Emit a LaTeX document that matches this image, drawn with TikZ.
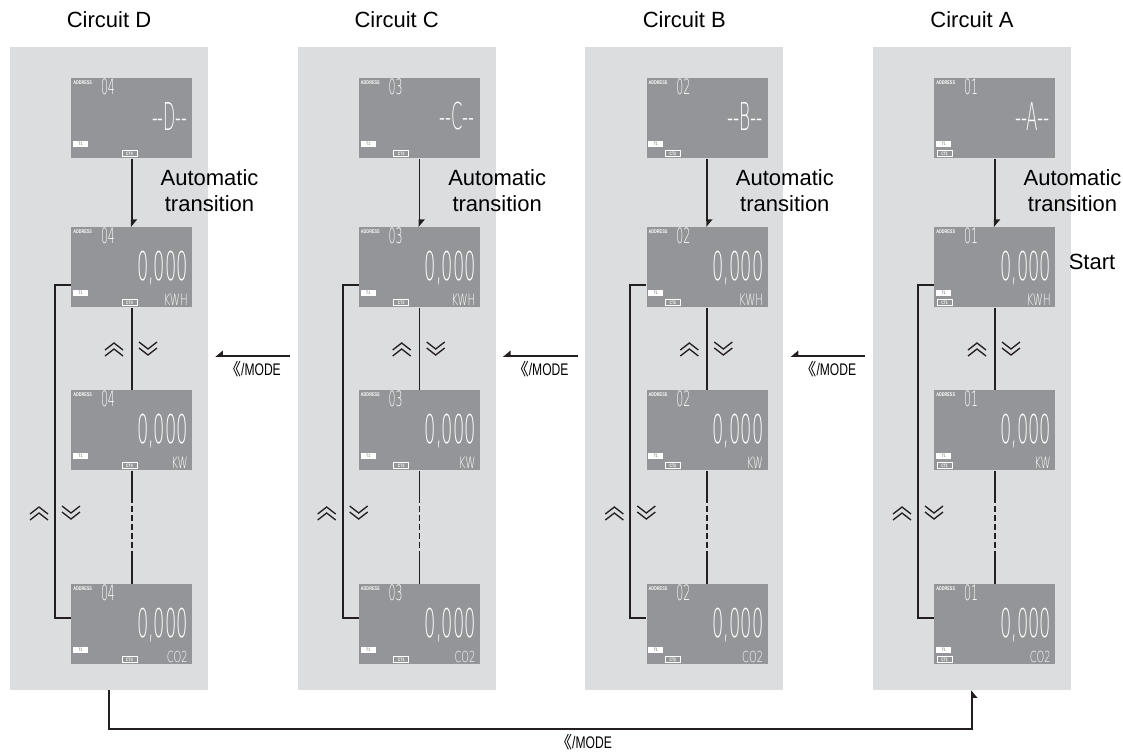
\documentclass[tikz,border=0pt]{standalone}
\usepackage{graphicx}
\usepackage{fontspec}
\setmainfont{Liberation Sans}
\newfontfamily\narrowfont[FakeStretch=0.72]{Liberation Sans}
\newfontfamily\lcdfont{DejaVu Sans ExtraLight}
\newfontfamily\lcdunitfont[FakeStretch=0.65]{DejaVu Sans ExtraLight}
\newfontfamily\cjkfont{Noto Sans CJK JP}
\usetikzlibrary{arrows.meta,positioning,calc}
\definecolor{PanelGray}{HTML}{DCDDDF}
\definecolor{LcdGray}{HTML}{939598}
\definecolor{LineDark}{HTML}{231F20}
\newcommand{\lcdtxt}[3]{\resizebox*{#1}{#2}{\lcdfont #3}}
\newcommand{\modetxt}{{\cjkfont 《}/MODE}

\begin{document}
\begin{tikzpicture}[x=0.75pt,y=-0.75pt,
  panel/.style={fill=PanelGray,minimum width=148.5pt,minimum height=482.25pt,inner sep=0pt},
  lcd/.style={fill=LcdGray,minimum width=90.75pt,minimum height=60pt,inner sep=0pt,anchor=north west},
  title/.style={font=\fontsize{16.5}{19}\selectfont},
  lbl/.style={font=\fontsize{16.5}{19.5}\selectfont,align=center},
  mode/.style={font=\fontsize{12.6}{14}\narrowfont,inner sep=1pt},
  tbox/.style={fill=white,text=LcdGray,minimum width=11.25pt,minimum height=4.5pt,inner sep=0pt,font=\fontsize{3.6}{4}\narrowfont\bfseries},
  ctbox/.style={draw=white,line width=0.4pt,text=white,minimum width=11.25pt,minimum height=4.5pt,inner sep=0pt,font=\fontsize{3.6}{4}\narrowfont\bfseries},
  addr/.style={text=white,inner sep=0pt,font=\fontsize{4}{4}\narrowfont\bfseries,anchor=west},
  seg/.style={text=white,inner sep=0pt},
  link/.style={draw=LineDark,line width=1.4pt},
  arr/.style={link,-{Triangle[harpoon,length=5pt,width=8pt]}},
  arrsw/.style={link,-{Triangle[harpoon,swap,length=5pt,width=8pt]}},
  chev/.style={draw=LineDark,line width=1pt},
  pics/upchev/.style={code={\draw[chev] (-9,1)--(0,-6)--(9,1) (-9,7)--(0,0)--(9,7);}},
  pics/dnchev/.style={code={\draw[chev] (-9,-7)--(0,0)--(9,-7) (-9,-1)--(0,6)--(9,-1);}}
]
\useasboundingbox (0,0) rectangle (1123,754);
% one column per circuit
\foreach \idx/\cir/\adr/\ltr/\ctn in {0/D/04/D/4,1/C/03/C/3,2/B/02/B/2,3/A/01/A/1}{
  \pgfmathsetmacro{\L}{10+287.67*\idx}
  \pgfmathsetmacro{\ct}{3+16*(3-\idx)}
  \node[panel] (p\cir) at (\L+99,368.5) {};
  \node[title] (t\cir) at (\L+99,20) {Circuit \cir};
  \foreach \k/\top in {1/78,2/227,3/390,4/584}{
    \node[lcd] (\cir\k) at (\L+61,\top) {};
    \node[addr] at ([shift={(2,5)}]\cir\k.north west) {ADDRESS};
    \node[seg] at ([shift={(37,9)}]\cir\k.north west) {\lcdtxt{10.5pt}{12pt}{\adr}};
    \node[tbox] at ([shift={(9.5,66)}]\cir\k.north west) {T1};
    \node[ctbox] at ([shift={(\ct+7.5,75.5)}]\cir\k.north west) {CT\ctn};
  }
  \node[seg] at ([shift={(98.5,38)}]\cir1.north west) {\lcdtxt{26.25pt}{21pt}{-{}-\ltr-{}-}};
  \foreach \k/\unit in {2/KWH,3/KW,4/CO2}{
    \node[seg] at ([shift={(91.5,41)}]\cir\k.north west) {\lcdtxt{38.25pt}{25.5pt}{0,000}};
    \node[seg,anchor=east] at ([shift={(117,72.5)}]\cir\k.north west) {\resizebox*{!}{8.6pt}{\lcdunitfont\unit}};
  }
  % connectors inside the column
  \draw[arr] (\cir1.south) -- (\cir2.north);
  \node[lbl] (auto\cir) at (\L+199.5,191) {Automatic\\transition};
  \draw[link] (\cir2.south) -- (\cir3.north);
  \pic at (\L+104,349) {upchev};
  \pic at (\L+138,349) {dnchev};
  \path (\cir3.south) -- coordinate[pos=.23] (s\cir) coordinate[pos=.74] (e\cir) (\cir4.north);
  \draw[link] (\cir3.south) -- (s\cir) (e\cir) -- (\cir4.north);
  \draw[link,dash pattern=on 4.5pt off 2.25pt] (s\cir) -- (e\cir);
  \draw[link] ([yshift=-13.5pt]\cir2.west) -- ++(-16,0) |- ([yshift=4.5pt]\cir4.west);
  \pic at (\L+29,513) {upchev};
  \pic at (\L+61,513) {dnchev};
}
\node[lbl] (start) at (1092,262) {Start};
% mode key between circuits
\draw[arrsw] ([shift={(-7.5,-12.5)}]pC.west) -- node[mode,below=2pt]{\modetxt} ([shift={(7,-12.5)}]pD.east);
\draw[arrsw] ([shift={(-7.5,-12.5)}]pB.west) -- node[mode,below=2pt]{\modetxt} ([shift={(7,-12.5)}]pC.east);
\draw[arrsw] ([shift={(-7.5,-12.5)}]pA.west) -- node[mode,below=2pt]{\modetxt} ([shift={(7,-12.5)}]pB.east);
\draw[arrsw] (pD.south) -- ++(0,39) -| node[mode,pos=.275,below=2pt]{\modetxt} (pA.south);
\end{tikzpicture}
\end{document}
